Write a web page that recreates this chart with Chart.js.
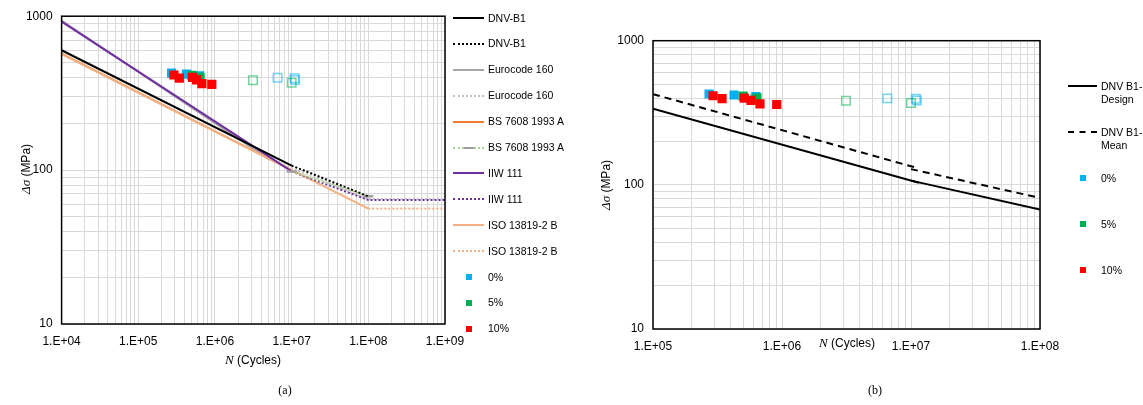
<!DOCTYPE html>
<html lang="en">
<head>
    <meta charset="UTF-8">
    <title>S-N curves</title>
    <style>
        body { margin: 0; background: #fff; font-family: "Liberation Sans", Arial, sans-serif; }
        #wrap { position: relative; width: 1143px; height: 405px; overflow: hidden; }
        canvas { position: absolute; top: 0; }
        .txt { position: absolute; white-space: nowrap; color: #000; font-size: 12px; }
        .it { font-family: "Liberation Serif", "Times New Roman", serif; font-style: italic; font-size: 13px; }
        .cap { font-family: "Liberation Serif", "Times New Roman", serif; font-size: 12px; }
        .leg { position: absolute; font-size: 10.5px; line-height: 13px; color: #000; white-space: nowrap; }
        .sample { position: absolute; height: 0; }
        .box { position: absolute; width: 6px; height: 6px; }
    </style>
    <script src="https://cdn.jsdelivr.net/npm/chart.js@4.4.1/dist/chart.umd.min.js"></script>
</head>
<body>
<div id="wrap">
    <canvas id="chartA" width="475" height="372" style="left:0"></canvas>
    <canvas id="chartB" width="480" height="377" style="left:590px"></canvas>
    <div id="legendA"></div>
    <div id="legendB"></div>

    <div class="txt" style="left:26px;top:169px;transform:translate(-50%,-50%) rotate(-90deg)"><span class="it">&Delta;&sigma;</span> (MPa)</div>
    <div class="txt" style="left:253px;top:360px;transform:translate(-50%,-50%)"><span class="it">N</span> (Cycles)</div>
    <div class="txt cap" style="left:285px;top:390px;transform:translate(-50%,-50%)">(a)</div>

    <div class="txt" style="left:606px;top:185px;transform:translate(-50%,-50%) rotate(-90deg)"><span class="it">&Delta;&sigma;</span> (MPa)</div>
    <div class="txt" style="left:847px;top:343px;transform:translate(-50%,-50%)"><span class="it">N</span> (Cycles)</div>
    <div class="txt cap" style="left:875px;top:390px;transform:translate(-50%,-50%)">(b)</div>
</div>

<script>
    // axis decades (tick labels)
    const decadesA = [1e4, 1e5, 1e6, 1e7, 1e8, 1e9];
    const decadesB = [1e5, 1e6, 1e7, 1e8];
    const stressDecades = [10, 100, 1000];

    // test results: cycles / stress range (MPa)
    const n0 = [2.72e5, 4.25e5, 6.28e5];
    const s0 = [427, 420, 410];
    const n5 = [5.0e5, 6.4e5];
    const s5 = [412, 400];
    const n10 = [2.92e5, 3.43e5, 5.1e5, 5.75e5, 6.75e5, 9.1e5];
    const s10 = [415, 396, 400, 386, 365, 361];
    // run-outs (hollow squares)
    const nRun0 = [6.55e6, 1.09e7, 1.11e7];
    const sRun0 = [398, 395, 385];
    const nRun5 = [6.2e5, 3.13e6, 1.0e7];
    const sRun5 = [395, 383, 370];

    // design curves, chart (a)
    const dnvN = [1e4, 1e7],            dnvS = [601, 107];
    const dnvTailN = [1e7, 1e8],        dnvTailS = [107, 67.5];
    const ecN = [1e4, 5e6],             ecS = [936, 118];
    const ecTailN = [5e6, 1e8, 1e9],    ecTailS = [118, 64.8, 64.8];
    const bsN = [1e4, 1e7],             bsS = [572, 100];
    const bsTailN = [1e7, 1e8],         bsTailS = [98, 67.5];
    const iiwN = [1e4, 1e7],            iiwS = [922, 98];
    const iiwTailN = [1e7, 1e8, 1e9],   iiwTailS = [98, 64, 64];
    const isoN = [1e4, 1e8],            isoS = [567, 56.2];
    const isoTailN = [1e8, 1e9],        isoTailS = [56.2, 56.2];

    // chart (b)
    const designN1 = [1e5, 1.15e7],     designS1 = [338, 103.3];
    const designN2 = [1e7, 1e8],        designS2 = [107, 67.5];
    const meanN1 = [1e5, 1.15e7],       meanS1 = [426, 130];
    const meanN2 = [1e7, 1e8],          meanS2 = [128.6, 81.2];

    const CYAN = '#00B0F0', GREEN = '#00B050', RED = '#FF0000';
    const DOT = [2, 2];

    function xy(xs, ys) { return xs.map((x, i) => ({ x: x, y: ys[i] })); }

    function curve(xs, ys, color, dash, width) {
        return {
            data: xy(xs, ys), showLine: true, borderColor: color, borderWidth: width || 2,
            borderDash: dash || [], pointRadius: 0, pointHoverRadius: 0, fill: false, tension: 0
        };
    }

    function marks(xs, ys, color, hollow) {
        return {
            data: xy(xs, ys), showLine: false, pointStyle: 'rect',
            pointRadius: hollow ? 6 : 6.5,
            backgroundColor: hollow ? 'rgba(0,0,0,0)' : color,
            borderColor: color, borderWidth: hollow ? 1.5 : 0
        };
    }

    function logTicks(decades) {
        const v = [];
        decades.forEach((d, i) => {
            if (i === decades.length - 1) v.push(d);
            else for (let k = 1; k < 10; k++) v.push(k * d);
        });
        return v.map(value => ({ value: value }));
    }

    function expLabel(v) {
        const e = Math.round(Math.log10(v));
        return '1.E+' + String(e).padStart(2, '0');
    }

    const frame = {
        id: 'frame',
        afterDatasetsDraw(chart) {
            const a = chart.chartArea, c = chart.ctx;
            c.save();
            c.strokeStyle = '#000';
            c.lineWidth = 1.5;
            c.strokeRect(a.left, a.top, a.right - a.left, a.bottom - a.top);
            c.restore();
        }
    };

    function options(decades, yWidth, pad) {
        const font = { family: '"Liberation Sans", Arial, sans-serif', size: 12 };
        return {
            responsive: false,
            animation: false,
            devicePixelRatio: 1,
            layout: { padding: pad },
            plugins: { legend: { display: false }, tooltip: { enabled: false } },
            scales: {
                x: {
                    type: 'logarithmic', min: decades[0], max: decades[decades.length - 1],
                    afterBuildTicks: s => { s.ticks = logTicks(decades); },
                    afterFit: s => { s.height = 48; },
                    grid: { color: '#D9D9D9', lineWidth: 1, drawTicks: false },
                    border: { display: false },
                    ticks: {
                        autoSkip: false, maxRotation: 0, padding: 10, color: '#000', font: font,
                        callback: v => decades.includes(v) ? expLabel(v) : ''
                    }
                },
                y: {
                    type: 'logarithmic', min: 10, max: 1000,
                    afterBuildTicks: s => { s.ticks = logTicks(stressDecades); },
                    afterFit: s => { s.width = yWidth; },
                    grid: { color: '#D9D9D9', lineWidth: 1, drawTicks: false },
                    border: { display: false },
                    ticks: {
                        autoSkip: false, padding: 9, color: '#000', font: font,
                        callback: v => stressDecades.includes(v) ? String(v) : ''
                    }
                }
            }
        };
    }

    // first dataset is drawn on top: 10% over 5% over 0%, points over curves
    function pointSets() {
        return [
            marks(n10, s10, RED), marks(n5, s5, GREEN), marks(n0, s0, CYAN),
            marks(nRun5, sRun5, 'rgba(0,176,80,0.55)', true),
            marks(nRun0, sRun0, 'rgba(0,176,240,0.55)', true)
        ];
    }

    // chart (a)
    new Chart(document.getElementById('chartA'), {
        type: 'scatter',
        data: {
            datasets: pointSets().concat([
                curve(dnvN, dnvS, '#000000'),
                curve(dnvTailN, dnvTailS, '#000000', DOT),
                Object.assign(curve(bsTailN, bsTailS, '#A9D18E', DOT), {
                    pointRadius: 5, pointStyle: 'line', pointBorderColor: '#A0A0A0', pointBorderWidth: 2.5
                }),
                curve(iiwN, iiwS, '#7030A0'),
                curve(iiwTailN, iiwTailS, '#7030A0', DOT),
                curve(isoN, isoS, '#F4B183'),
                curve(isoTailN, isoTailS, '#F4B183', DOT),
                curve(bsN, bsS, '#ED7D31'),
                curve(ecN, ecS, '#A6A6A6'),
                curve(ecTailN, ecTailS, '#C8C8C8', DOT)
            ])
        },
        options: options(decadesA, 61.6, { top: 13.5, right: 30, left: 0, bottom: 0 }),
        plugins: [frame]
    });

    // chart (b)
    new Chart(document.getElementById('chartB'), {
        type: 'scatter',
        data: {
            datasets: pointSets().concat([
                curve(designN1, designS1, '#000000'),
                curve(designN2, designS2, '#000000'),
                curve(meanN1, meanS1, '#000000', [7, 5]),
                curve(meanN2, meanS2, '#000000', [7, 5])
            ])
        },
        options: options(decadesB, 63, { top: 40.7, right: 30, left: 0, bottom: 0 }),
        plugins: [frame]
    });

    // legends
    const legendA = [
        ['DNV-B1', 'line', '#000000', 'solid'],
        ['DNV-B1', 'line', '#000000', 'dotted'],
        ['Eurocode 160', 'line', '#A6A6A6', 'solid'],
        ['Eurocode 160', 'line', '#BFBFBF', 'dotted'],
        ['BS 7608 1993 A', 'line', '#ED7D31', 'solid'],
        ['BS 7608 1993 A', 'line', '#A9D18E', 'dotted', true],
        ['IIW 111', 'line', '#7030A0', 'solid'],
        ['IIW 111', 'line', '#7030A0', 'dotted'],
        ['ISO 13819-2 B', 'line', '#F4B183', 'solid'],
        ['ISO 13819-2 B', 'line', '#F4B183', 'dotted'],
        ['0%', 'box', CYAN],
        ['5%', 'box', GREEN],
        ['10%', 'box', RED]
    ];
    const legendB = [
        ['DNV B1-<br>Design', 'line', '#000000', 'solid', 86],
        ['DNV B1-<br>Mean', 'line', '#000000', 'dashed', 132],
        ['0%', 'box', CYAN, null, 178],
        ['5%', 'box', GREEN, null, 224],
        ['10%', 'box', RED, null, 270]
    ];

    function addItem(host, item, y, lineX, lineW, boxX, textX) {
        const [label, kind, color, style, marker] = item;
        if (kind === 'line') {
            const s = document.createElement('div');
            s.className = 'sample';
            s.style.left = lineX + 'px';
            s.style.top = (y - 1) + 'px';
            s.style.width = lineW + 'px';
            s.style.borderTop = '2px ' + style + ' ' + color;
            host.appendChild(s);
            if (marker === true) {
                const m = document.createElement('div');
                m.className = 'sample';
                m.style.left = (lineX + lineW / 2 - 5) + 'px';
                m.style.top = (y - 1) + 'px';
                m.style.width = '10px';
                m.style.borderTop = '2px solid #A0A0A0';
                host.appendChild(m);
            }
        } else {
            const b = document.createElement('div');
            b.className = 'box';
            b.style.left = (boxX - 3) + 'px';
            b.style.top = (y - 3) + 'px';
            b.style.background = color;
            host.appendChild(b);
        }
        const t = document.createElement('div');
        t.className = 'leg';
        t.style.left = textX + 'px';
        t.style.top = (y - 6.5) + 'px';
        t.innerHTML = label;
        host.appendChild(t);
    }

    const hostA = document.getElementById('legendA');
    legendA.forEach((item, i) => addItem(hostA, item, 18 + i * 25.9, 453, 31, 469, 488));
    const hostB = document.getElementById('legendB');
    legendB.forEach(item => addItem(hostB, item, item[4], 1068, 29, 1083, 1101));
</script>
</body>
</html>
